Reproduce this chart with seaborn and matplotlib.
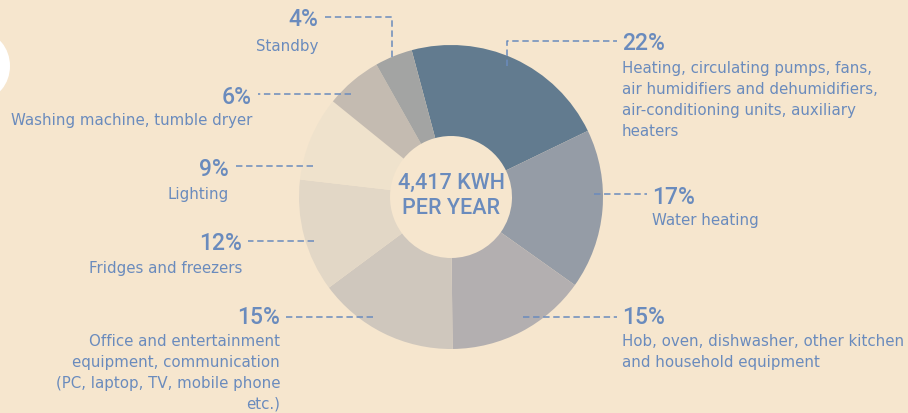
import matplotlib.pyplot as plt
import seaborn as sns
from matplotlib.patches import Ellipse

# Stromverbrauch eines Haushalts, Anteile in Prozent
categories = ['Heating', 'Water heating', 'Kitchen', 'Office', 'Fridges',
              'Lighting', 'Washing', 'Standby']
shares = [22, 17, 15, 15, 12, 9, 6, 4]
pct_labels = ['22%', '17%', '15%', '15%', '12%', '9%', '6%', '4%']
descriptions = [
    ['Heating, circulating pumps, fans,', 'air humidifiers and dehumidifiers,',
     'air-conditioning units, auxiliary', 'heaters'],
    ['Water heating'],
    ['Hob, oven, dishwasher, other kitchen', 'and household equipment'],
    ['Office and entertainment', 'equipment, communication',
     '(PC, laptop, TV, mobile phone', 'etc.)'],
    ['Fridges and freezers'],
    ['Lighting'],
    ['Washing machine, tumble dryer'],
    ['Standby'],
]
slice_colors = ['#627b8f', '#959ca6', '#b3afb0', '#cfc7bd', '#e2d7c6',
                '#efe2cc', '#c4bbb1', '#a3a4a3']
center_text = '4,417 KWH\nPER YEAR'

blue = '#6a8bbd'
bg = '#f6e6ce'

sns.set_theme(style='white')
plt.rcParams['font.family'] = ['Roboto', 'DejaVu Sans']

W, H = 908, 413
fig = plt.figure(figsize=(W / 100, H / 100), dpi=100, facecolor=bg)
ax = fig.add_axes([0, 0, 1, 1])
ax.set_facecolor(bg)


def py(y):
    # pixel row (from top) -> data y
    return H - y


# weisser Fleck am linken Rand
ax.add_patch(Ellipse((-18, py(66)), 56, 66, color='white', lw=0))

ax.pie(shares, colors=slice_colors, startangle=105, counterclock=False,
       center=(451, py(197)), radius=152,
       wedgeprops=dict(width=91, linewidth=0))
ax.set_xlim(0, W)
ax.set_ylim(0, H)
ax.axis('off')

ax.text(451, py(196), center_text, ha='center', va='center', color=blue,
        fontsize=15.5, fontweight='medium', linespacing=1.25)

# (x, y des Prozentwerts, Ausrichtung, y der ersten Zeile, Linie)
layout = [
    (622, 43, 'left', 69, [(507, 66), (507, 41), (617, 41)]),
    (652, 197, 'left', 221, [(594, 194), (647, 194)]),
    (622, 317, 'left', 342, [(523, 317), (617, 317)]),
    (280, 317, 'right', 342, [(373, 317), (286, 317)]),
    (242, 244, 'right', 269, [(314, 241), (248, 241)]),
    (229, 170, 'right', 194, [(313, 166), (235, 166)]),
    (252, 97, 'right', 121, [(351, 94), (258, 94)]),
    (318, 19, 'right', 46, [(392, 57), (392, 17), (325, 17)]),
]

for pct, desc, (x, y, ha, y0, line) in zip(pct_labels, descriptions, layout):
    ax.text(x, py(y), pct, ha=ha, va='center', color=blue, fontsize=16.5,
            fontweight='medium')
    for i, row in enumerate(desc):
        ax.text(x, py(y0 + i * 20.8), row, ha=ha, va='center', color=blue,
                fontsize=10.8, family='DejaVu Sans')
    xs = [p[0] for p in line]
    ys = [py(p[1]) for p in line]
    ax.plot(xs, ys, color=blue, lw=1.1, linestyle=(0, (4.2, 2.4)))

fig.savefig('out.png', dpi=100, facecolor=bg)
